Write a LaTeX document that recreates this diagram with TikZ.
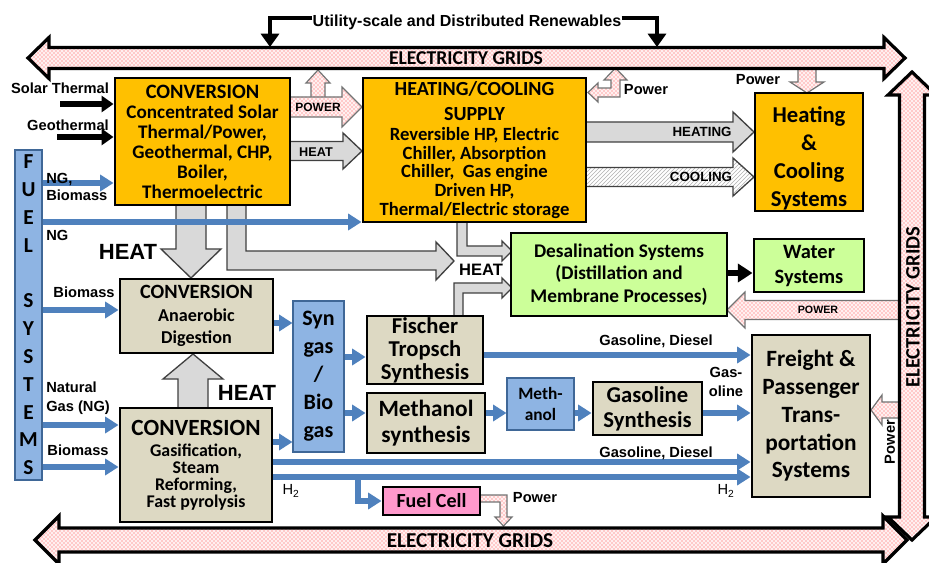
\documentclass[tikz,border=0pt]{standalone}
\usepackage{fontspec}
\setmainfont{Carlito}
\newfontfamily\arialf{Liberation Sans}
\usetikzlibrary{arrows.meta,patterns}
\definecolor{orng}{HTML}{FFC000}
\definecolor{beig}{HTML}{DDD9C3}
\definecolor{lblue}{HTML}{8EB4E3}
\definecolor{lgreen}{HTML}{CCFF99}
\definecolor{pnk}{HTML}{FF99CC}
\definecolor{bline}{HTML}{4F81BD}
% block arrows: style, start, tip, centre, body half, head half, head length
\newcommand{\blkR}[7]{\path[#1] (#2,#4-#5) -- (#3-#7,#4-#5) -- (#3-#7,#4-#6) -- (#3,#4) -- (#3-#7,#4+#6) -- (#3-#7,#4+#5) -- (#2,#4+#5) -- cycle;}
\newcommand{\blkL}[7]{\path[#1] (#2,#4-#5) -- (#3+#7,#4-#5) -- (#3+#7,#4-#6) -- (#3,#4) -- (#3+#7,#4+#6) -- (#3+#7,#4+#5) -- (#2,#4+#5) -- cycle;}
\newcommand{\blkU}[7]{\path[#1] (#4-#5,#2) -- (#4-#5,#3+#7) -- (#4-#6,#3+#7) -- (#4,#3) -- (#4+#6,#3+#7) -- (#4+#5,#3+#7) -- (#4+#5,#2) -- cycle;}
\newcommand{\blkD}[7]{\path[#1] (#4-#5,#2) -- (#4-#5,#3-#7) -- (#4-#6,#3-#7) -- (#4,#3) -- (#4+#6,#3-#7) -- (#4+#5,#3-#7) -- (#4+#5,#2) -- cycle;}
\newcommand{\blkH}[7]{\path[#1] (#2,#4) -- (#2+#7,#4-#6) -- (#2+#7,#4-#5) -- (#3-#7,#4-#5) -- (#3-#7,#4-#6) -- (#3,#4) -- (#3-#7,#4+#6) -- (#3-#7,#4+#5) -- (#2+#7,#4+#5) -- (#2+#7,#4+#6) -- cycle;}
\newcommand{\blkV}[7]{\path[#1] (#4,#2) -- (#4+#6,#2+#7) -- (#4+#5,#2+#7) -- (#4+#5,#3-#7) -- (#4+#6,#3-#7) -- (#4,#3) -- (#4-#6,#3-#7) -- (#4-#5,#3-#7) -- (#4-#5,#2+#7) -- (#4-#6,#2+#7) -- cycle;}
% box node: name, x1, y1, x2, y2 (pixels), style, text
\newcommand{\bxnode}[7]{\node[#6, minimum width={(#4-#2)*0.75pt}, minimum height={(#5-#3)*0.75pt}] (#1) at ({(#2+#4)/2},{(#3+#5)/2}) {#7};}
\newcommand{\cfs}[2]{\fontsize{#1}{#2}\selectfont\bfseries}
\newcommand{\afs}[1]{\arialf\bfseries\fontsize{#1}{#1}\selectfont}
\begin{document}
\begin{tikzpicture}[x=0.75pt,y=-0.75pt,
  box/.style={draw=black, line width=2.2pt, inner sep=0pt, align=center},
  lbox/.style={draw=bline!80!black, line width=0.8pt, fill=lblue, inner sep=0pt, align=center},
  lab/.style={font=\arialf\bfseries\fontsize{11}{13}\selectfont, inner sep=0pt, align=center},
  gridbig/.style={fill=red!6, postaction={pattern=crosshatch dots, pattern color=red!70}, postaction={draw=black, line width=2.4pt}},
  gridsm/.style={fill=red!6, postaction={pattern=crosshatch dots, pattern color=red!70}, postaction={draw=black!55, line width=0.9pt}},
  greyarr/.style={fill=gray!30, draw=black!75, line width=1pt},
  hatcharr/.style={fill=white, postaction={pattern=north east lines, pattern color=gray!60}, postaction={draw=black!75, line width=1pt}},
  bluearr/.style={draw=bline, line width=4pt, -{Triangle[width=12pt,length=10pt]}},
  blackarr/.style={draw=black, line width=4.2pt, -{Triangle[width=12pt,length=9pt]}},
  thinblk/.style={draw=black, line width=3pt, -{Triangle[width=13.5pt,length=10pt]}},
]
\useasboundingbox (0,0) rectangle (929,563);
\clip (0,0) rectangle (929,563);
\fill[white] (0,0) rectangle (929,563);

% small power arrows (under the grids)
\blkU{gridsm}{99}{70}{318}{7}{12}{13}
\path[gridsm] (588,92.5) -- (598,83) -- (598,88) -- (611,88) -- (611,80) -- (604,80) -- (615.5,68) -- (627,80) -- (620,80) -- (620,97) -- (598,97) -- (598,102) -- cycle;
\blkD{gridsm}{66}{93}{807}{9}{17}{11}
\blkL{gridsm}{903}{727}{310}{9.5}{18}{18}
\blkL{gridsm}{903}{871}{410}{8}{15}{11}
\path[gridsm] (478,495) -- (507,495) -- (507,517) -- (512,517) -- (503.5,526) -- (495,517) -- (500,517) -- (500,502) -- (478,502) -- cycle;
\blkR{gridsm}{288}{362}{107}{10}{20}{20}

% heat / cooling arrows
\blkR{greyarr}{288}{362}{151}{9.5}{18}{19}
\blkR{greyarr}{584}{754}{132}{10}{20}{21}
\blkR{hatcharr}{584}{754}{177}{9.5}{19}{21}
\blkD{greyarr}{203}{278}{191}{15}{30}{29}
\path[greyarr] (227,203) -- (227,270) -- (436,270) -- (436,280) -- (454,261) -- (436,242) -- (436,251) -- (246,251) -- (246,203) -- cycle;
\path[greyarr] (457,220) -- (457,256) -- (502,256) -- (502,261) -- (512,251) -- (502,241) -- (502,246) -- (467,246) -- (467,220) -- cycle;
\path[greyarr] (454,318) -- (454,283) -- (502,283) -- (502,278) -- (512,288) -- (502,298) -- (502,293) -- (463,293) -- (463,318) -- cycle;
\blkU{greyarr}{410}{354}{193}{15}{30}{25}

% electricity grids
\blkH{gridbig}{28}{905}{58}{10.5}{20.5}{21}
\blkV{gridbig}{72}{540}{912}{12.5}{24}{23}
\blkH{gridbig}{35}{907}{540}{12}{24}{24}

% boxes
\bxnode{conv1}{115}{78}{290}{205}{box, fill=orng, font=\cfs{14.4}{15}}{{\fontsize{15.3}{15}\selectfont CONVERSION}\\Concentrated Solar\\Thermal/Power,\\Geothermal, CHP,\\Boiler,\\Thermoelectric}
\bxnode{hc}{363}{78}{586}{222}{box, fill=orng, font=\cfs{14}{14}}{{\fontsize{15}{14}\selectfont HEATING/COOLING}\\[4.75pt]{\fontsize{15}{14}\selectfont SUPPLY}\\[1pt]Reversible HP, Electric\\Chiller, Absorption\\Chiller,\ \ Gas engine\\Driven HP,\\Thermal/Electric storage}
\bxnode{hcs}{755}{93}{863}{211}{box, fill=orng, font=\cfs{17}{21}}{\rule{0pt}{22pt}Heating\\\&\\Cooling\\Systems}
\bxnode{desal}{511}{233}{727}{316}{box, fill=lgreen, font=\cfs{14.5}{17}}{Desalination Systems\\(Distillation and\\Membrane Processes)}
\bxnode{water}{754}{239}{864}{292}{box, fill=lgreen, font=\cfs{15.3}{18.75}}{Water\\Systems}
\bxnode{anaer}{120}{279}{273}{353}{box, fill=beig, font=\cfs{13.6}{17}}{{\fontsize{15.2}{17}\selectfont CONVERSION}\\Anaerobic\\Digestion}
\bxnode{gasif}{120}{408}{272}{522}{box, fill=beig, font=\cfs{13.4}{12.75}}{{\fontsize{17.4}{12.75}\selectfont CONVERSION}\\[3pt]Gasification,\\Steam\\Reforming,\\Fast pyrolysis}
\bxnode{syngas}{293}{301}{344}{452}{lbox, font=\cfs{16.5}{21}}{Syn\\gas\\/\\Bio\\gas}
\bxnode{ft}{367}{316}{483}{384}{box, fill=beig, font=\cfs{17}{17.25}}{Fischer\\Tropsch\\Synthesis}
\bxnode{meth}{367}{393}{485}{453}{box, fill=beig, font=\cfs{17.5}{19.5}}{Methanol\\synthesis}
\bxnode{methnl}{507}{378}{574}{430}{lbox, font=\cfs{13}{15.75}}{Meth-\\anol}
\bxnode{gassyn}{593}{382}{702}{435}{box, fill=beig, font=\cfs{17}{18.75}}{Gasoline\\Synthesis}
\bxnode{freight}{752}{335}{870}{497}{box, fill=beig, font=\cfs{17.5}{20.8}}{Freight \&\\Passenger\\Trans-\\portation\\Systems}
\bxnode{fc}{383}{487}{480}{515}{box, fill=pnk, font=\cfs{15}{18}}{Fuel Cell}
\bxnode{fuel}{15}{150}{42}{480}{lbox, font=\cfs{16}{20.85}}{F\\U\\E\\L\\[20.85pt]S\\Y\\S\\T\\E\\M\\S}

% black arrows
\coordinate (stA) at (60,104);
\coordinate (geA) at (57,137);
\draw[blackarr] (stA) -- (conv1.west |- stA);
\draw[blackarr] (geA) -- (conv1.west |- geA);
\draw[line width=4.2pt, -{Triangle[width=13.5pt,length=11pt]}] (desal.east |- 0,273) -- (water.west |- 0,273);

% blue fuel arrows
\draw[bluearr] (fuel.east |- 0,183) -- (conv1.west |- 0,183);
\draw[bluearr] (fuel.east |- 0,222) -- (hc.west |- 0,222);
\draw[bluearr] (fuel.east |- 0,310) -- (anaer.west |- 0,310);
\draw[bluearr] (fuel.east |- 0,425) -- (gasif.west |- 0,425);
\draw[bluearr] (fuel.east |- 0,467) -- (gasif.west |- 0,467);
\draw[bluearr] (anaer.east |- 0,323) -- (syngas.west |- 0,323);
\draw[bluearr] (gasif.east |- 0,442) -- (syngas.west |- 0,442);
\draw[bluearr] (syngas.east |- 0,357) -- (ft.west |- 0,357);
\draw[bluearr] (syngas.east |- 0,413) -- (meth.west |- 0,413);
\draw[bluearr] (meth.east |- 0,413) -- (methnl.west |- 0,413);
\draw[bluearr] (methnl.east |- 0,413) -- (gassyn.west |- 0,413);
\draw[bluearr] (gassyn.east |- 0,413) -- (freight.west |- 0,413);
\draw[bluearr] (ft.east |- 0,355) -- (freight.west |- 0,355);
\draw[bluearr] (gasif.east |- 0,462) -- (freight.west |- 0,462);
\draw[bluearr] (gasif.east |- 0,477) -- (freight.west |- 0,477);
\coordinate (brH) at (358,477);
\draw[bluearr] (brH) |- (fc.west);

% top renewables
\node[inner sep=0pt, font=\afs{12}] (util) at (467,22) {Utility-scale and Distributed Renewables};
\coordinate (ulA) at (270,47);
\coordinate (urA) at (657,47);
\draw[thinblk] (util.west |- 0,18) -| (ulA);
\draw[thinblk] (util.east |- 0,18) -| (urA);

% grid labels
\node[inner sep=0pt, font=\cfs{14.7}{15}] (g1) at (466,58) {ELECTRICITY GRIDS};
\node[inner sep=0pt, font=\cfs{15.9}{16}] (g2) at (470,541) {ELECTRICITY GRIDS};
\node[inner sep=0pt, font=\cfs{15.4}{16}, rotate=90] (g3) at (913,307) {ELECTRICITY GRIDS};

% labels
\node[lab] (lsol) at (60,88) {Solar Thermal};
\node[lab] (lgeo) at (68,125) {Geothermal};
\node[lab, align=left, anchor=west, font=\arialf\bfseries\fontsize{11}{12.75}\selectfont] (lngb) at (46,187) {NG,\\Biomass};
\node[lab, anchor=west] (lng) at (46,235) {NG};
\node[lab] (lbio1) at (84,292) {Biomass};
\node[lab, align=left, anchor=west, font=\arialf\bfseries\fontsize{11}{14.25}\selectfont] (lnat) at (46,398) {Natural\\Gas (NG)};
\node[lab] (lbio2) at (78,450) {Biomass};
\node[inner sep=0pt, font=\afs{16.5}] (heat1) at (128,252) {HEAT};
\node[inner sep=0pt, font=\afs{16.5}] (heat2) at (247,393) {HEAT};
\node[inner sep=0pt, font=\afs{12.4}] (heat3) at (481,270) {HEAT};
\node[inner sep=0pt, font=\afs{9}] (lpow1) at (318,107) {POWER};
\node[inner sep=0pt, font=\afs{9.5}] (lheat) at (316,152) {HEAT};
\node[lab] (lpow2) at (646,90) {Power};
\node[lab] (lpow3) at (758,80) {Power};
\node[inner sep=0pt, font=\afs{10}] (lheating) at (702,132) {HEATING};
\node[inner sep=0pt, font=\afs{10}] (lcooling) at (701,177) {COOLING};
\node[inner sep=0pt, font=\afs{8}] (lpow4) at (818,310) {POWER};
\node[lab] (lgd1) at (656,341) {Gasoline, Diesel};
\node[lab, font=\arialf\bfseries\fontsize{11}{14.25}\selectfont] (lgas) at (726,382) {Gas-\\oline};
\node[lab] (lgd2) at (656,453) {Gasoline, Diesel};
\node[inner sep=0pt, font=\arialf\fontsize{11}{12}\selectfont] (lh1) at (291,491) {H\textsubscript{2}};
\node[inner sep=0pt, font=\arialf\fontsize{11}{12}\selectfont] (lh2) at (726,491) {H\textsubscript{2}};
\node[lab] (lpow5) at (535,498) {Power};
\node[lab, rotate=90] (lpow6) at (890,442) {Power};
\end{tikzpicture}
\end{document}
